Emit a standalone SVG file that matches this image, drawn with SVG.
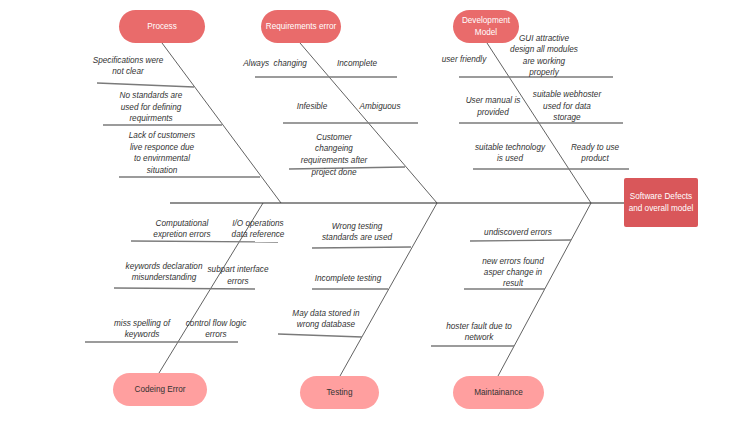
<svg xmlns="http://www.w3.org/2000/svg" width="736" height="426" viewBox="0 0 736 426">
<style>
.top rect{fill:#E96B6B}
.bot rect{fill:#FF9F9F}
.top text{fill:#ffffff}
.bot text{fill:#333333}
text{font-family:"Liberation Sans",Arial,sans-serif;font-size:8.2px;text-anchor:middle;dominant-baseline:central}
.lbl{fill:#333333;font-style:italic}
.sub{stroke:#7a7a7a;stroke-width:1.3;fill:none}
.diag{stroke:#3a3a3a;stroke-width:0.8;fill:none}
.spine{stroke:#6a6a6a;stroke-width:1.3;fill:none}
</style>
<rect width="736" height="426" fill="#ffffff"/>
<g id="connectors">
<line class="spine" x1="170" y1="203" x2="624" y2="203"/>
<line class="diag" x1="162" y1="43" x2="281" y2="203"/>
<line class="diag" x1="300" y1="43" x2="437" y2="203"/>
<line class="diag" x1="487" y1="43" x2="591" y2="203"/>
<line class="diag" x1="263" y1="203" x2="159" y2="373"/>
<line class="diag" x1="437" y1="203" x2="340" y2="376"/>
<line class="diag" x1="591" y1="203" x2="498" y2="376"/>
<line class="sub" x1="97" y1="83" x2="194" y2="87"/>
<line class="sub" x1="103" y1="125" x2="222" y2="125"/>
<line class="sub" x1="119" y1="177" x2="260" y2="177"/>
<line class="sub" x1="255" y1="77" x2="397" y2="77"/>
<line class="sub" x1="283" y1="123" x2="418" y2="123"/>
<line class="sub" x1="289" y1="169" x2="405" y2="167"/>
<line class="sub" x1="459" y1="77" x2="613" y2="77"/>
<line class="sub" x1="459" y1="123" x2="623" y2="123"/>
<line class="sub" x1="473" y1="169" x2="629" y2="169"/>
<line class="sub" x1="131" y1="241" x2="278" y2="242"/>
<line class="sub" x1="114" y1="288" x2="255" y2="289"/>
<line class="sub" x1="85" y1="342" x2="238" y2="342"/>
<line class="sub" x1="312" y1="248" x2="411" y2="247"/>
<line class="sub" x1="312" y1="289" x2="388" y2="289"/>
<line class="sub" x1="278" y1="334" x2="362" y2="337"/>
<line class="sub" x1="470" y1="241" x2="571" y2="240"/>
<line class="sub" x1="464" y1="289" x2="545" y2="289"/>
<line class="sub" x1="431" y1="346" x2="514" y2="346"/>
</g>
<g id="labels">
<text class="lbl" x="128" y="60">Specifications were</text>
<text class="lbl" x="128" y="71">not clear</text>
<text class="lbl" x="151" y="95">No standards are</text>
<text class="lbl" x="151" y="107">used for defining</text>
<text class="lbl" x="151" y="118">requirments</text>
<text class="lbl" x="162" y="135">Lack of customers</text>
<text class="lbl" x="162" y="147">live responce due</text>
<text class="lbl" x="162" y="158">to envirnmental</text>
<text class="lbl" x="162" y="170">situation</text>
<text class="lbl" x="275" y="63" xml:space="preserve">Always  changing</text>
<text class="lbl" x="357" y="63">Incomplete</text>
<text class="lbl" x="312" y="106">Infesible</text>
<text class="lbl" x="380" y="106">Ambiguous</text>
<text class="lbl" x="334" y="137">Customer</text>
<text class="lbl" x="334" y="148">changeing</text>
<text class="lbl" x="334" y="160">requirements after</text>
<text class="lbl" x="334" y="172">project done</text>
<text class="lbl" x="464" y="59">user friendly</text>
<text class="lbl" x="544" y="38">GUI attractive</text>
<text class="lbl" x="544" y="49">design all modules</text>
<text class="lbl" x="544" y="61">are working</text>
<text class="lbl" x="544" y="72">properly</text>
<text class="lbl" x="493" y="100">User manual is</text>
<text class="lbl" x="493" y="112">provided</text>
<text class="lbl" x="567" y="94">suitable webhoster</text>
<text class="lbl" x="567" y="106">used for data</text>
<text class="lbl" x="567" y="117">storage</text>
<text class="lbl" x="510" y="147">suitable technology</text>
<text class="lbl" x="510" y="158">is used</text>
<text class="lbl" x="595" y="147">Ready to use</text>
<text class="lbl" x="595" y="158">product</text>
<text class="lbl" x="182" y="223">Computational</text>
<text class="lbl" x="182" y="234">expretion errors</text>
<text class="lbl" x="258" y="223">I/O operations</text>
<text class="lbl" x="258" y="234">data reference</text>
<text class="lbl" x="164" y="266">keywords declaration</text>
<text class="lbl" x="164" y="277">misunderstanding</text>
<text class="lbl" x="238" y="269">subpart interface</text>
<text class="lbl" x="238" y="281">errors</text>
<text class="lbl" x="142" y="323">miss spelling of</text>
<text class="lbl" x="142" y="334">keywords</text>
<text class="lbl" x="216" y="323">control flow logic</text>
<text class="lbl" x="216" y="334">errors</text>
<text class="lbl" x="357" y="226">Wrong testing</text>
<text class="lbl" x="357" y="237">standards are used</text>
<text class="lbl" x="348" y="278">Incomplete testing</text>
<text class="lbl" x="326" y="313">May data stored in</text>
<text class="lbl" x="326" y="324">wrong database</text>
<text class="lbl" x="518" y="232">undiscoverd errors</text>
<text class="lbl" x="513" y="261">new errors found</text>
<text class="lbl" x="513" y="272">asper change in</text>
<text class="lbl" x="513" y="283">result</text>
<text class="lbl" x="479" y="326">hoster fault due to</text>
<text class="lbl" x="479" y="337">network</text>
</g>
<g id="process" class="top">
<rect x="119" y="10" width="86" height="33" rx="16.5"/>
<text x="162" y="26.5">Process</text>
</g>
<g id="requirements-error" class="top">
<rect x="261" y="10" width="80" height="33" rx="16.5"/>
<text x="301" y="26.5">Requirements error</text>
</g>
<g id="development-model" class="top">
<rect x="453" y="10" width="66" height="33" rx="16.5"/>
<text x="486" y="20.5">Development</text>
<text x="486" y="32">Model</text>
</g>
<g id="codeing-error" class="bot">
<rect x="113" y="373" width="94" height="33" rx="16.5"/>
<text x="160" y="389.5">Codeing Error</text>
</g>
<g id="testing" class="bot">
<rect x="300" y="376" width="79" height="33" rx="16.5"/>
<text x="339.5" y="392.5">Testing</text>
</g>
<g id="maintainance" class="bot">
<rect x="453" y="376" width="91" height="33" rx="16.5"/>
<text x="498.5" y="392.5">Maintainance</text>
</g>
<g id="software-defects">
<rect x="624" y="178" width="74" height="49" rx="2" fill="#D9575A"/>
<text x="661" y="196" fill="#ffffff">Software Defects</text>
<text x="661" y="208" fill="#ffffff">and overall model</text>
</g>
</svg>
